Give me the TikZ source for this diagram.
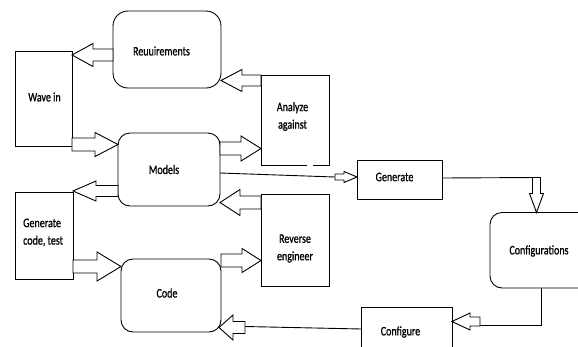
\documentclass[tikz,border=0pt]{standalone}
\usepackage{fontspec}
\setmainfont{Carlito}[FakeStretch=0.77, FakeBold=0.9]
\usetikzlibrary{calc}

\tikzset{
  box/.style={draw, line width=0.9pt, inner sep=0pt, outer sep=0pt},
  rbox/.style={box, rounded corners=12pt},
  lbl/.style={inner sep=0pt, font=\fontsize{13}{17.5}\selectfont, align=center},
  conn/.style={draw, line width=0.9pt},
  barrow/.style={draw, line width=0.9pt, fill=white, line join=miter},
}

% hollow block arrow: #1 start, #2 tip, #3 shaft half-width,
% #4 head half-width, #5 head length (all in pt)
\newcommand\blockarrow[5]{%
  \coordinate (hb) at ($(#2)!#5pt!(#1)$);
  \draw[barrow] ($(#1)!#3pt!90:(#2)$) -- ($(hb)!#3pt!90:(#2)$)
    -- ($(hb)!#4pt!90:(#2)$) -- (#2) -- ($(hb)!#4pt!-90:(#2)$)
    -- ($(hb)!#3pt!-90:(#2)$) -- ($(#1)!#3pt!-90:(#2)$) -- cycle;
}

\begin{document}
\begin{tikzpicture}[x=1pt, y=-1pt]
\useasboundingbox (0,0) rectangle (578,346);

% boxes
\node[rbox, rounded corners=15pt, minimum width=108pt, minimum height=77pt] (req) at (167,49.5) {};
\node[box, minimum width=57pt, minimum height=95pt] (wave) at (43.5,98.5) {};
\node[rbox, minimum width=102pt, minimum height=73pt] (models) at (169,169.5) {};
\node[box, minimum width=58pt, minimum height=87pt] (gencode) at (44,235.5) {};
\node[rbox, minimum width=100pt, minimum height=73pt] (code) at (171,295.5) {};
\node[box, draw=none, minimum width=68pt, minimum height=90pt] (analyze) at (295,120) {};
\node[box, minimum width=68pt, minimum height=92pt] (reverse) at (295,240) {};
\node[box, minimum width=85pt, minimum height=39pt] (generate) at (399.5,179.5) {};
\node[rbox, minimum width=110pt, minimum height=75.5pt] (cfg) at (545,250.25) {};
\node[box, minimum width=90.5pt, minimum height=53pt] (configure) at (406.75,333.5) {};

% analyze box outline, open at the bottom
\draw[conn] ($(analyze.south)+(12,0)$) -- (analyze.south west) -- (analyze.north west)
  -- (analyze.north east) -- (analyze.south east) -- ($(analyze.south)+(18,0)$);

% labels
\node[lbl] (req-t) at (161.5,51) {Reuuirements};
\node[lbl] (wave-t) at (44.5,97) {Wave in};
\node[lbl] (analyze-t) at (292.5,116.5) {Analyze\\against};
\node[lbl] (models-t) at (164,169.5) {Models};
\node[lbl, align=left, anchor=west] (gencode-t) at (23,232.5) {Generate\\code, test};
\node[lbl] (reverse-t) at (295,248.5) {Reverse\\engineer};
\node[lbl] (code-t) at (167,293) {Code};
\node[lbl] (generate-t) at (394.5,177) {Generate};
\node[lbl] (cfg-t) at (539,251) {Configurations};
\node[lbl] (configure-t) at (400.5,332) {Configure};

% connector end points
\coordinate (a1s) at ($(req.west)+(0,5.5)$);
\coordinate (a1t) at (wave.east |- a1s);
\coordinate (a2s) at ($(wave.east)+(0,46)$);
\coordinate (a2t) at (models.west |- a2s);
\coordinate (a3s) at ($(models.east)+(0,-21)$);
\coordinate (a3t) at (analyze.west |- a3s);
\coordinate (a4s) at ($(analyze.west)+(0,-39.5)$);
\coordinate (a4t) at (req.east |- a4s);
\coordinate (a5s) at ($(models.west)+(0,21.5)$);
\coordinate (a5t) at (gencode.east |- a5s);
\coordinate (a6s) at ($(reverse.west)+(0,-37.5)$);
\coordinate (a6t) at (models.east |- a6s);
\coordinate (a7s) at ($(gencode.east)+(0,31)$);
\coordinate (a7t) at (code.west |- a7s);
\coordinate (a8s) at ($(code.east)+(0,-35)$);
\coordinate (a8t) at (reverse.west |- a8s);
\coordinate (a9t) at ($(generate.west)+(0,-2.5)$);
\coordinate (a9s) at ($(a9t)+(-22,0)$);
\coordinate (a10t) at ($(cfg.north)+(-8.5,0)$);
\coordinate (a10s) at ($(a10t |- generate.east)+(0,-2)$);
\coordinate (a11t) at ($(configure.east)+(0,-12)$);
\coordinate (a11s) at ($(a11t)+(28,0)$);
\coordinate (c11) at ($(cfg.south)+(-4,0)$);
\coordinate (a12t) at ($(code.east)+(-2,32)$);
\coordinate (a12s) at ($(a12t)+(26,0)$);

% plain connector lines
\draw[conn] ($(models.east)+(0,3.5)$) -- (a9s);
\draw[conn] ($(generate.east)+(0,-1.5)$) -- (a10s);
\draw[conn] (c11) |- ($(a11s)+(0,4)$);
\draw[conn] ($(configure.west)+(0,-4.5)$) -- ($(a12s)+(0,-1)$);

% block arrows
\blockarrow{a1s}{a1t}{6}{11.5}{21}
\blockarrow{a2s}{a2t}{6.5}{12}{23}
\blockarrow{a3s}{a3t}{6.5}{12.5}{20}
\blockarrow{a4s}{a4t}{5.5}{11}{21}
\blockarrow{a5s}{a5t}{5.5}{10}{23}
\blockarrow{a6s}{a6t}{6.5}{13}{20}
\blockarrow{a7s}{a7t}{6.5}{14.5}{24}
\blockarrow{a8s}{a8t}{6.5}{12}{19}
\blockarrow{a9s}{a9t}{3}{5.5}{13}
\blockarrow{a10s}{a10t}{4}{7}{19}
\blockarrow{a11s}{a11t}{4.5}{8.5}{18}
\blockarrow{a12s}{a12t}{6}{12.5}{14}
\end{tikzpicture}
\end{document}
